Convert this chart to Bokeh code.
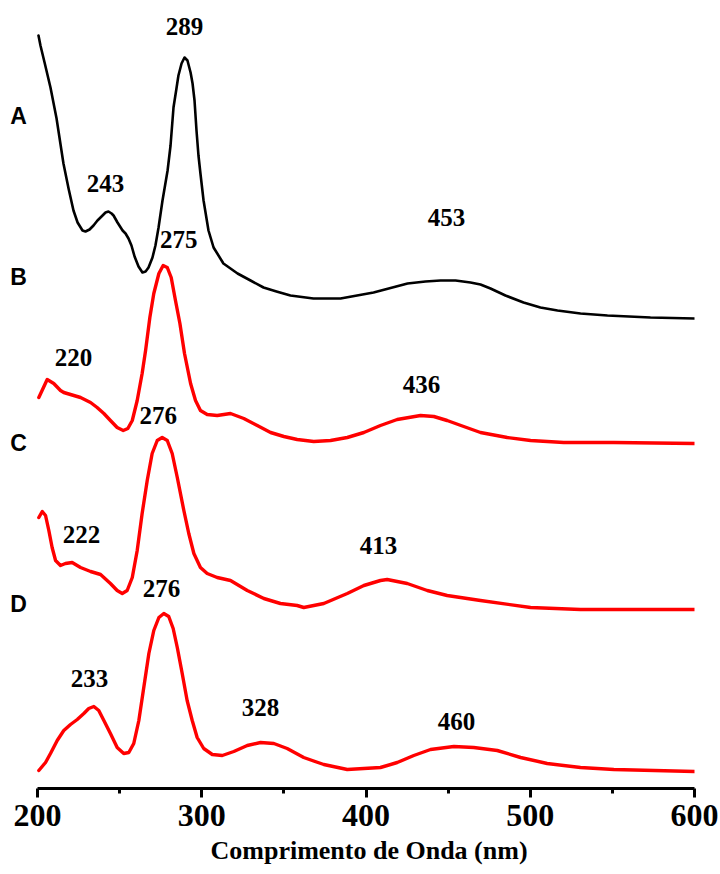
from bokeh.plotting import figure
from bokeh.models import FixedTicker, Label, ColumnDataSource, Range1d, Title
from bokeh.core.properties import value
from bokeh.embed import file_html
from bokeh.resources import INLINE

# ---- data (wavelength in nm, stacked absorbance in arbitrary offset units) ----
a_nm = [200.6, 201.8, 204.3, 207.9, 211.6, 215.8, 218.9, 221.9, 224.4, 227.4, 229.2, 231.7,
        234.1, 236.5, 239.6, 241.4, 243.2, 245.1, 246.3, 248.7, 251.8, 253.6, 255.4, 257.2,
        259.1, 261.5, 263.9, 265.8, 267.6, 270.0, 271.8, 273.7, 276.1, 279.2, 281.0, 282.8,
        284.6, 285.8, 287.7, 289.5, 291.3, 293.2, 294.4, 295.6, 296.8, 298.0, 299.2, 301.1,
        304.1, 307.2, 313.2, 321.8, 329.7, 337.6, 345.5, 354.0, 368.0, 384.5, 404.6, 425.3,
        436.2, 445.4, 454.5, 463.6, 469.7, 475.8, 484.9, 495.9, 506.2, 516.6, 530.6, 547.0,
        573.2, 600.0]
a_abs = [7.53, 7.43, 7.26, 7.01, 6.70, 6.25, 6.00, 5.78, 5.66, 5.58, 5.57, 5.59,
         5.63, 5.68, 5.73, 5.76, 5.77, 5.75, 5.73, 5.66, 5.58, 5.55, 5.50, 5.43,
         5.32, 5.22, 5.16, 5.17, 5.21, 5.31, 5.43, 5.61, 5.88, 6.18, 6.43, 6.81,
         7.00, 7.13, 7.25, 7.31, 7.28, 7.16, 7.05, 6.88, 6.58, 6.33, 6.15, 5.88,
         5.58, 5.41, 5.25, 5.15, 5.08, 5.01, 4.97, 4.93, 4.90, 4.90, 4.96, 5.05,
         5.07, 5.08, 5.08, 5.06, 5.04, 5.00, 4.93, 4.86, 4.81, 4.78, 4.75, 4.73,
         4.71, 4.70]

b_nm = [200.8, 205.9, 209.9, 214.0, 216.0, 226.2, 232.3, 236.3, 240.4, 244.4, 248.5, 252.2,
        255.0, 257.7, 260.7, 263.7, 265.8, 268.4, 270.8, 273.9, 276.5, 279.0, 281.4, 284.0,
        286.7, 289.5, 293.2, 296.2, 299.2, 303.3, 309.4, 317.5, 325.6, 333.8, 341.9, 350.0,
        358.1, 368.2, 378.4, 388.6, 398.7, 408.8, 419.0, 433.2, 441.3, 449.4, 459.5, 469.7,
        486.0, 500.2, 520.4, 550.9, 600.0]
b_abs = [3.91, 4.09, 4.05, 3.98, 3.96, 3.91, 3.86, 3.81, 3.75, 3.68, 3.61, 3.58,
         3.60, 3.68, 3.88, 4.15, 4.38, 4.71, 4.95, 5.15, 5.23, 5.21, 5.11, 4.88,
         4.65, 4.35, 4.05, 3.88, 3.78, 3.74, 3.73, 3.75, 3.70, 3.63, 3.56, 3.52,
         3.49, 3.47, 3.48, 3.51, 3.56, 3.63, 3.69, 3.73, 3.72, 3.68, 3.62, 3.56,
         3.51, 3.48, 3.46, 3.46, 3.45]

c_nm = [200.8, 202.9, 204.9, 206.9, 208.9, 211.0, 214.0, 217.0, 221.1, 226.2, 232.3, 238.4,
        244.4, 248.5, 251.6, 254.6, 257.7, 260.7, 263.7, 266.8, 269.8, 272.9, 275.9, 279.0,
        282.0, 285.1, 289.1, 292.1, 295.2, 299.2, 303.3, 309.4, 317.5, 327.7, 337.8, 347.9,
        358.1, 362.1, 374.3, 388.6, 398.7, 408.8, 412.9, 425.1, 437.3, 449.4, 469.7, 500.2,
        530.6, 600.0]
c_abs = [2.71, 2.77, 2.73, 2.58, 2.41, 2.28, 2.23, 2.25, 2.26, 2.21, 2.17, 2.14,
         2.05, 1.98, 1.95, 1.98, 2.11, 2.38, 2.75, 3.08, 3.35, 3.48, 3.51, 3.48,
         3.35, 3.11, 2.78, 2.55, 2.35, 2.21, 2.15, 2.11, 2.08, 1.98, 1.90, 1.85,
         1.83, 1.81, 1.85, 1.95, 2.03, 2.08, 2.09, 2.05, 1.98, 1.93, 1.88, 1.81,
         1.79, 1.79]

d_nm = [200.8, 204.9, 207.9, 212.0, 216.0, 220.1, 224.2, 228.2, 231.2, 234.3, 237.3, 240.4,
        244.4, 248.5, 252.5, 255.6, 258.6, 261.7, 264.7, 267.8, 270.8, 273.9, 276.9, 279.9,
        282.6, 285.1, 288.1, 291.1, 294.2, 297.2, 301.2, 306.4, 312.5, 319.5, 327.7, 335.8,
        343.9, 352.0, 362.1, 374.3, 388.6, 408.8, 419.0, 429.1, 439.3, 453.5, 465.6, 479.9,
        494.1, 510.3, 530.6, 550.9, 600.0]
d_abs = [0.18, 0.26, 0.35, 0.48, 0.58, 0.64, 0.69, 0.75, 0.80, 0.82, 0.78, 0.68,
         0.55, 0.41, 0.35, 0.36, 0.45, 0.68, 1.01, 1.35, 1.58, 1.71, 1.75, 1.72,
         1.60, 1.41, 1.15, 0.88, 0.68, 0.51, 0.40, 0.34, 0.33, 0.37, 0.43, 0.46,
         0.45, 0.40, 0.31, 0.24, 0.19, 0.21, 0.26, 0.33, 0.39, 0.42, 0.41, 0.38,
         0.31, 0.25, 0.21, 0.19, 0.17]

series_names = ["A", "B", "C", "D"]
series_colors = ["black", "red", "red", "red"]

peak_labels = ["289", "243", "275", "453", "220", "436", "276", "222", "413", "276", "233", "328", "460"]
peak_label_nm = [289.5, 241.4, 286.0, 449.0, 221.9, 433.8, 273.5, 226.8, 407.6, 275.5, 231.7, 335.8, 455.1]
peak_label_abs = [7.62, 6.05, 5.49, 5.71, 4.31, 4.04, 3.73, 2.54, 2.43, 2.00, 1.10, 0.81, 0.67]

series_label_nm = [188.4, 188.4, 188.4, 188.4]
series_label_abs = [6.73, 5.12, 3.46, 1.85]

tick_values = [200, 300, 400, 500, 600]
minor_tick_values = [250, 350, 450, 550]
x_title = "Comprimento de Onda (nm)"

# ---- figure ----
p = figure(width=720, height=874, output_backend="svg", toolbar_location=None,
           x_range=Range1d(177.47, 600), y_range=Range1d(0, 7.88),
           y_axis_location=None, min_border_left=0, min_border_right=26,
           min_border_top=0, min_border_bottom=86)
p.grid.visible = False
p.outline_line_color = None
p.background_fill_color = "white"

curves = [(a_nm, a_abs), (b_nm, b_abs), (c_nm, c_abs), (d_nm, d_abs)]
for (xs, ys), col in zip(curves, series_colors):
    p.line(xs, ys, line_color=col, line_width=(2.6 if col == "black" else 3.4),
           line_join="round", line_cap="round")

src = ColumnDataSource(dict(x=peak_label_nm, y=peak_label_abs, t=peak_labels))
p.text(x="x", y="y", text="t", source=src, text_font=value("Liberation Serif"),
       text_font_style="bold", text_font_size="25px", text_align="center",
       text_baseline="middle", text_color="black")

for name, xn, ya in zip(series_names, series_label_nm, series_label_abs):
    p.add_layout(Label(x=xn, y=ya, text=name, text_font="Liberation Sans",
                       text_font_style="bold", text_font_size="23px",
                       text_align="center", text_baseline="middle", text_color="black"))

ax = p.xaxis[0]
ax.bounds = (200, 600)
ax.ticker = FixedTicker(ticks=tick_values, minor_ticks=minor_tick_values)
ax.axis_line_width = 3
ax.axis_line_color = "black"
ax.major_tick_line_width = 3
ax.major_tick_in = 0
ax.major_tick_out = 9
ax.minor_tick_line_width = 3
ax.minor_tick_in = 0
ax.minor_tick_out = 5
ax.major_label_text_font = "Liberation Serif"
ax.major_label_text_font_style = "bold"
ax.major_label_text_font_size = "32px"
ax.major_label_text_color = "black"
ax.major_label_standoff = 7

p.add_layout(Title(text=x_title, align="left", offset=210, standoff=14,
                   vertical_align="top",
                   text_font="Liberation Serif", text_font_style="bold",
                   text_font_size="26px", text_color="black"), "below")

open("out.html", "w").write(file_html(p, INLINE))
